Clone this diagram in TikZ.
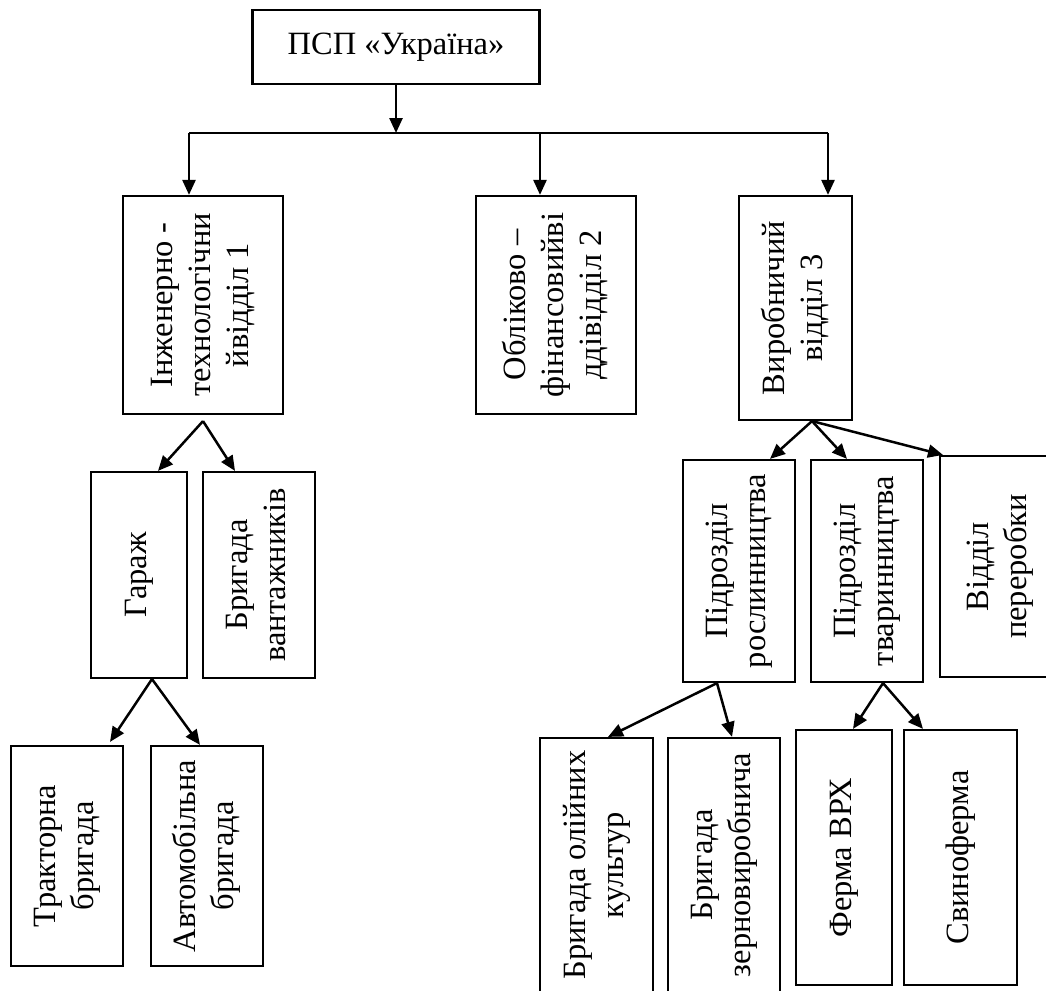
\documentclass[tikz,border=0pt]{standalone}
\usepackage{fontspec}
\setmainfont{Liberation Serif}
\usetikzlibrary{arrows.meta}
\newcommand{\vtext}[1]{\rotatebox{90}{\begin{tabular}{@{}c@{}}#1\end{tabular}}}
\tikzset{
  box/.style={draw=black, line width=2.2pt, fill=white, inner sep=0pt, rectangle,
    font=\fontsize{32.5}{38}\selectfont},
  arr/.style={draw=black, line width=2.5pt, -{Triangle[length=15pt,width=13pt]}},
  bus/.style={draw=black, line width=2.5pt}
}
\begin{document}
\begin{tikzpicture}[x=1pt,y=-1pt]
\useasboundingbox[fill=white] (0,0) rectangle (1046,990);
\clip (0,0) rectangle (1046,990);
% level 0
\node[box, minimum width=287pt, minimum height=74pt] (top) at (396,47) {ПСП «Україна»};
% level 1
\node[box, minimum width=160pt, minimum height=218pt] (b1) at (203,305) {\vtext{Інженерно -\\технологічни\\йвідділ 1}};
\node[box, minimum width=160pt, minimum height=218pt] (b2) at (556,305) {\vtext{Обліково –\\фінансовийві\\ддівідділ 2}};
\node[box, minimum width=113pt, minimum height=224pt] (b3) at (795.5,308) {\vtext{Виробничий\\відділ 3}};
% level 2
\node[box, minimum width=96pt, minimum height=206pt] (garage) at (139,575) {\vtext{Гараж}};
\node[box, minimum width=112pt, minimum height=206pt] (vantazh) at (259,575) {\vtext{Бригада\\вантажників}};
\node[box, minimum width=112pt, minimum height=222pt] (roslyn) at (739,571) {\vtext{Підрозділ\\рослинництва}};
\node[box, minimum width=112pt, minimum height=222pt] (tvaryn) at (867,571) {\vtext{Підрозділ\\тваринництва}};
\node[box, minimum width=120pt, minimum height=221pt] (pererob) at (1000,566.5) {\vtext{Відділ\\переробки}};
% level 3
\node[box, minimum width=112pt, minimum height=220pt] (traktor) at (67,856) {\vtext{Тракторна\\бригада}};
\node[box, minimum width=112pt, minimum height=220pt] (avto) at (207,856) {\vtext{Автомобільна\\бригада}};
\node[box, minimum width=113pt, minimum height=254pt] (oliyni) at (596.5,865) {\vtext{Бригада олійних\\культур}};
\node[box, minimum width=112pt, minimum height=254pt] (zerno) at (724,865) {\vtext{Бригада\\зерновиробнича}};
\node[box, minimum width=96pt, minimum height=255pt] (ferma) at (844,857.5) {\vtext{Ферма ВРХ}};
\node[box, minimum width=113pt, minimum height=255pt] (svyno) at (960.5,857.5) {\vtext{Свиноферма}};
% bus
\coordinate (busM) at (396,133);
\coordinate (busL) at (189,133);
\coordinate (bus2) at (540,133);
\coordinate (busR) at (828,133);
\draw[arr] (top.south) -- (busM);
\draw[bus] (busL) -- (busR);
\draw[arr] (busL) -- (busL |- b1.north);
\draw[arr] (bus2) -- (bus2 |- b2.north);
\draw[arr] (busR) -- (busR |- b3.north);
% b1 children
\draw[arr] ([yshift=-6pt]b1.south) -- ([xshift=19pt]garage.north);
\draw[arr] ([yshift=-6pt]b1.south) -- ([xshift=-24pt]vantazh.north);
% garage children
\draw[arr] ([xshift=13pt]garage.south) -- ([xshift=43pt,yshift=3pt]traktor.north);
\draw[arr] ([xshift=13pt]garage.south) -- ([xshift=-7pt]avto.north);
% b3 children
\draw[arr] ([xshift=16.5pt]b3.south) -- ([xshift=31pt]roslyn.north);
\draw[arr] ([xshift=16.5pt]b3.south) -- ([xshift=-20pt]tvaryn.north);
\draw[arr] ([xshift=16.5pt]b3.south) -- ([xshift=-57pt]pererob.north);
% roslyn children
\draw[arr] ([xshift=-22pt]roslyn.south) -- ([xshift=11.5pt]oliyni.north);
\draw[arr] ([xshift=-22pt]roslyn.south) -- ([xshift=8pt]zerno.north);
% tvaryn children
\draw[arr] ([xshift=16pt]tvaryn.south) -- ([xshift=9pt]ferma.north);
\draw[arr] ([xshift=16pt]tvaryn.south) -- ([xshift=-37.5pt]svyno.north);
\end{tikzpicture}
\end{document}
